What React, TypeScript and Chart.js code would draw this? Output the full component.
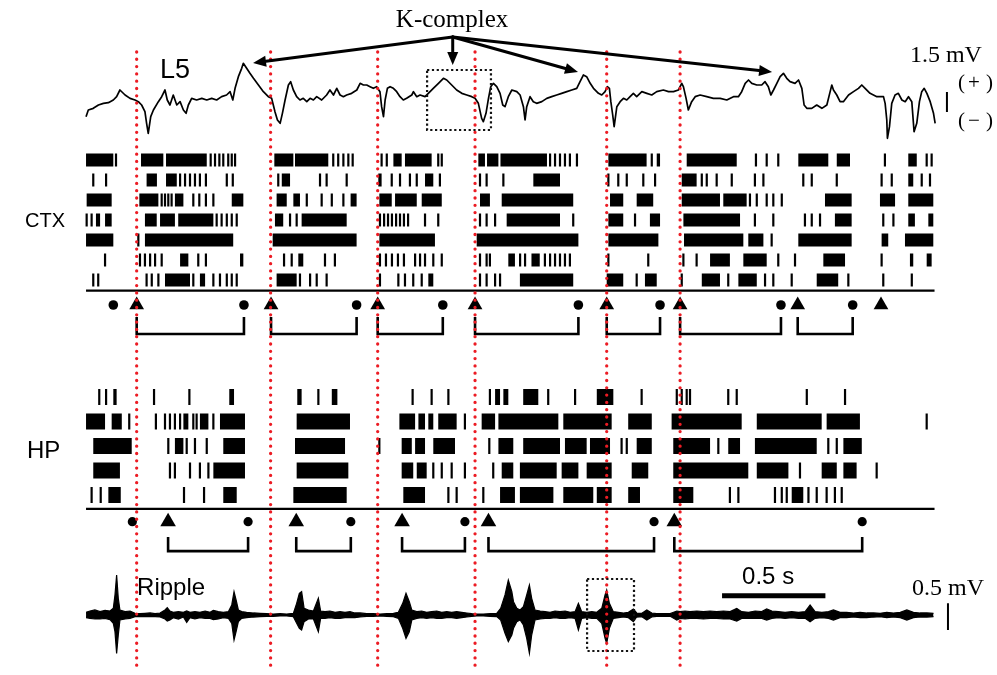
import React, { useEffect, useRef } from "react";
import { Chart, registerables } from "chart.js";
Chart.register(...registerables);

type Row = (number | [number, number])[];

// ---------------- DATA (time in s, potentials in mV) ----------------
// K-complex onsets (red dotted lines)
const kComplexOnsets = [0.25, 0.898, 1.416, 1.887, 2.524, 2.879];

// L5 LFP trace [t, mV]
const l5Trace: [number, number][] = [
  [0.005, -1.25], [0.016, -0.75], [0.04, -0.625], [0.065, -0.375], [0.089, -0.25], [0.113, -0.2], [0.137, 0], [0.153, 0.25],
  [0.169, 0.75], [0.194, 0.375], [0.218, 0.125], [0.242, 0], [0.258, -0.125], [0.274, -0.375], [0.29, -0.875], [0.298, -1.75],
  [0.306, -2.5], [0.318, -1.25], [0.331, -0.75], [0.355, -0.125], [0.371, 0.25], [0.387, 0.75], [0.398, 0], [0.411, -0.375],
  [0.427, 0.375], [0.444, -0.375], [0.46, -0.125], [0.476, -0.75], [0.489, -1.0], [0.5, -0.375], [0.516, 0.125], [0.54, 0],
  [0.565, 0.125], [0.589, 0], [0.613, 0.125], [0.637, 0], [0.661, 0.25], [0.685, 0.375], [0.702, 0.625], [0.715, 0],
  [0.726, 0.875], [0.742, 1.75], [0.758, 2.375], [0.766, 2.75], [0.782, 2.375], [0.798, 2.0], [0.815, 1.625], [0.839, 1.125],
  [0.863, 0.625], [0.887, 0.25], [0.903, 0.125], [0.911, -0.375], [0.919, -0.875], [0.931, -1.5], [0.944, -1.75], [0.955, -1.0],
  [0.968, 0], [0.984, 1.125], [0.995, 1.375], [1.008, 0.75], [1.024, 0.25], [1.04, 0], [1.056, 0.125], [1.073, -0.125],
  [1.089, 0.125], [1.105, 0], [1.121, 0.25], [1.145, 0], [1.169, 0.375], [1.185, 0.75], [1.202, 0.375], [1.218, 0.875],
  [1.234, 0.375], [1.25, 0.25], [1.266, 0.375], [1.29, 0.5], [1.315, 0.75], [1.331, 1.25], [1.347, 1.125], [1.363, 1.125],
  [1.379, 1.0], [1.395, 0.875], [1.411, 1.0], [1.427, 0.625], [1.435, -0.5], [1.444, -1.25], [1.452, 0], [1.463, 0.875],
  [1.476, 1.0], [1.492, 0.875], [1.508, 0.625], [1.524, 0.25], [1.54, 0], [1.556, 0.125], [1.581, 0.375], [1.589, 0.625],
  [1.605, 0.25], [1.621, 0.375], [1.645, 0.25], [1.661, 0.5], [1.685, 0.875], [1.71, 1.25], [1.734, 1.625], [1.75, 1.5],
  [1.774, 1.125], [1.798, 0.75], [1.823, 0.5], [1.847, 0.375], [1.871, 0.25], [1.887, 0.125], [1.903, -0.25], [1.919, -1.375],
  [1.927, -1.625], [1.94, -1.0], [1.952, 0.125], [1.963, 1.0], [1.976, 1.25], [1.992, 1.0], [2.008, 0.5], [2.021, -0.375],
  [2.032, -0.5], [2.048, 0.25], [2.065, 0.75], [2.089, 0.625], [2.105, 0.375], [2.121, -0.5], [2.129, -1.5], [2.137, -0.5],
  [2.153, 0.25], [2.169, -0.125], [2.185, -0.25], [2.21, -0.125], [2.234, 0.125], [2.258, 0.25], [2.282, 0.375], [2.306, 0.5],
  [2.331, 0.625], [2.355, 0.75], [2.379, 0.875], [2.395, 1.375], [2.411, 1.875], [2.427, 1.75], [2.444, 1.25], [2.46, 0.875],
  [2.484, 0.5], [2.5, 0.375], [2.516, 0.625], [2.527, 1.0], [2.537, 0.875], [2.544, -0.125], [2.553, -1.125], [2.56, -2.0],
  [2.573, -0.5], [2.589, -0.125], [2.605, 0.125], [2.621, 0], [2.637, 0.25], [2.653, 0.5], [2.669, 0.25], [2.694, 0.625],
  [2.718, 0.5], [2.742, 0.375], [2.766, 0.625], [2.798, 0.75], [2.823, 0.625], [2.847, 0.625], [2.871, 0.75], [2.887, 1.25],
  [2.895, 1.0], [2.908, 0.125], [2.919, -0.75], [2.935, -0.125], [2.952, 0.25], [2.976, 0.375], [3.008, 0.25], [3.04, 0.125],
  [3.073, 0.125], [3.105, 0], [3.137, 0.25], [3.161, 0.25], [3.177, 0.625], [3.194, 1.25], [3.21, 1.5], [3.226, 1.25],
  [3.25, 1.125], [3.274, 1.125], [3.29, 1.375], [3.306, 1.0], [3.318, 0.375], [3.331, 0.75], [3.347, 1.25], [3.363, 1.75],
  [3.379, 2.0], [3.395, 1.625], [3.411, 1.375], [3.435, 1.25], [3.452, 1.5], [3.468, 0.875], [3.479, -0.375], [3.492, -0.625],
  [3.516, -0.625], [3.54, -0.375], [3.565, -0.625], [3.589, -0.375], [3.605, 0.625], [3.613, 1.125], [3.621, 0.75], [3.637, 0.375],
  [3.653, -0.125], [3.669, -0.125], [3.694, 0.375], [3.718, 0.625], [3.742, 0.875], [3.758, 1.125], [3.774, 0.875], [3.798, 0.5],
  [3.831, 0.25], [3.863, 0.25], [3.871, -0.25], [3.879, -1.5], [3.882, -2.875], [3.892, -2.0], [3.903, -0.25], [3.919, 0.375],
  [3.935, 0.5], [3.952, 0], [3.968, -0.125], [3.984, 0.25], [4.0, -0.125], [4.011, -2.375], [4.024, -1.75], [4.037, -0.125],
  [4.048, 0.625], [4.06, 0.875], [4.073, 0.5], [4.089, -0.125], [4.105, -1.0], [4.113, -1.75],
];

// CTX raster: single spikes (numbers) and dense bursts ([start, end])
const ctxRow1: Row = [[0.005, 0.137], 0.15, [0.271, 0.379], [0.392, 0.589], 0.608, 0.629, 0.65, 0.669, 0.693, 0.71, 0.726,
  [0.916, 1.008], [1.016, 1.177], 1.201, 1.225, 1.25, 1.274, 1.295, 1.435, 1.46, [1.492, 1.532], [1.548, 1.677], 1.709, 1.726,
  [1.903, 1.935], [1.945, 2.0], [2.01, 2.235], 2.25, 2.274, 2.298, 2.322, 2.346, 2.38, [2.532, 2.717], 2.742, [2.766, 2.782],
  [2.911, 3.153], 3.246, 3.298, 3.354, [3.451, 3.596], [3.637, 3.701], 3.87, [3.983, 4.024], 4.072, 4.096];
const ctxRow2: Row = [0.04, 0.102, [0.298, 0.348], [0.392, 0.444], 0.46, 0.484, 0.508, 0.532, 0.556, 0.585, 0.686, 0.715,
  0.935, [0.952, 0.992], 1.137, 1.169, 1.266, [1.419, 1.435], 1.484, 1.524, 1.572, 1.605, [1.645, 1.685], 1.717, 1.911, 1.943,
  2.024, [2.169, 2.298], 2.532, 2.58, 2.621, 2.701, 2.758, [2.887, 2.959], 2.984, 3.008, 3.056, 3.129, 3.241, 3.282, 3.475,
  3.516, 3.637, 3.854, 3.903, [3.983, 4.007], 4.048, 4.088];
const ctxRow3: Row = [[0.008, 0.129], [0.263, 0.355], 0.371, 0.387, 0.403, 0.419, [0.435, 0.476], 0.524, 0.553, 0.585, 0.621,
  [0.71, 0.766], [0.927, 0.976], [1.008, 1.04], 1.073, 1.145, 1.194, 1.25, [1.285, 1.314], [1.424, 1.484], [1.5, 1.605],
  [1.629, 1.726], [1.911, 1.959], [2.016, 2.362], [2.54, 2.604], [2.669, 2.749], [2.887, 3.072], [3.088, 3.201], 3.217, 3.25,
  3.298, 3.33, 3.371, [3.58, 3.709], [3.846, 3.919], [3.983, 4.104]];
const ctxRow4: Row = [0.008, 0.032, [0.053, 0.073], [0.097, 0.129], [0.29, 0.347], [0.363, 0.435], [0.451, 0.621], 0.637,
  0.661, 0.686, 0.71, 0.734, [0.919, 0.959], 0.992, 1.024, [1.048, 1.266], 1.427, 1.447, 1.466, 1.485, 1.505, 1.524, 1.543,
  1.563, 1.645, 1.709, 1.911, 1.943, 1.984, [2.04, 2.298], 2.362, [2.532, 2.604], 2.661, [2.733, 2.782], [2.895, 3.169],
  3.241, 3.33, 3.483, 3.516, 3.556, [3.628, 3.709], 3.862, 3.911, [3.983, 4.015], [4.08, 4.104]];
const ctxRow5: Row = [[0.005, 0.137], 0.258, [0.29, 0.717], [0.908, 1.314], [1.424, 1.693], [1.895, 2.387], [2.532, 2.774],
  [2.898, 3.185], [3.209, 3.282], 3.322, [3.451, 3.709], [3.854, 3.886], [3.967, 4.104]];
const ctxRow6: Row = [0.097, 0.266, 0.29, 0.315, 0.339, 0.371, [0.46, 0.5], 0.548, 0.585, [0.75, 0.766], 0.963, 1.0,
  [1.032, 1.056], 1.161, 1.209, 1.427, 1.456, 1.485, 1.514, 1.543, 1.597, 1.621, 1.645, 1.685, 1.726, 1.911, 1.943, 1.959,
  [2.048, 2.08], 2.105, 2.129, [2.16, 2.2], 2.225, 2.25, 2.274, 2.298, 2.322, 2.346, 2.532, 2.725, 2.895, 2.959,
  [3.024, 3.12], [3.185, 3.298], 3.354, 3.435, [3.572, 3.677], 3.854, [3.991, 4.007], [4.072, 4.096]];
const ctxRow7: Row = [0.04, 0.064, 0.298, 0.323, 0.355, [0.387, 0.508], 0.524, [0.556, 0.581], 0.621, 0.653, 0.686, 0.71,
  0.734, [0.927, 1.024], 1.04, 1.089, 1.121, 1.169, 1.427, 1.516, 1.548, 1.588, 1.629, [1.661, 1.685], 1.911, 1.943, 1.984,
  2.008, [2.104, 2.362], [2.524, 2.604], 2.669, [2.709, 2.766], 2.887, [2.984, 3.072], 3.112, [3.161, 3.25], 3.29, 3.33,
  3.419, [3.54, 3.644], 3.693, 3.862, 4.0];

// HP raster
const hpRow1: Row = [0.069, 0.102, [0.137, 0.153], 0.334, 0.505, [0.698, 0.721], [1.027, 1.048], 1.129, [1.194, 1.221],
  1.585, 1.677, 1.758, 1.959, [1.984, 2.008], [2.024, 2.048], [2.12, 2.193], 2.241, 2.371, [2.476, 2.556], 2.693, 2.863,
  2.887, 2.911, 2.927, 3.112, 3.153, 3.492, 3.677];
const hpRow2: Row = [[0.005, 0.097], [0.129, 0.178], 0.214, 0.343, 0.387, 0.411, 0.435, 0.46, [0.476, 0.5], 0.524, 0.54,
  [0.556, 0.597], 0.621, [0.653, 0.774], [1.024, 1.282], [1.521, 1.597], [1.613, 1.645], [1.661, 1.685], [1.709, 1.798],
  1.838, [1.919, 1.984], [2.0, 2.29], [2.314, 2.548], [2.628, 2.742], [2.838, 3.177], [3.25, 3.564], [3.588, 3.749], 4.072];
const hpRow3: Row = [[0.04, 0.226], 0.403, [0.435, 0.476], 0.492, 0.532, 0.589, [0.669, 0.774], [1.016, 1.258], 1.424,
  [1.532, 1.581], [1.597, 1.645], [1.685, 1.79], 1.956, [2.0, 2.072], [2.12, 2.298], [2.322, 2.427], [2.443, 2.54], 2.596,
  2.621, [2.669, 2.742], [2.846, 3.024], 3.064, [3.112, 3.169], [3.241, 3.54], 3.596, 3.637, [3.669, 3.758]];
const hpRow4: Row = [[0.04, 0.169], 0.411, 0.435, 0.508, 0.556, 0.597, [0.621, 0.774], [1.024, 1.274], [1.532, 1.588],
  [1.605, 1.653], 1.685, 1.726, 1.774, 1.838, 1.975, [2.016, 2.072], [2.104, 2.282], [2.306, 2.387], [2.427, 2.548],
  [2.645, 2.725], [2.846, 3.209], [3.25, 3.403], 3.459, [3.564, 3.637], [3.669, 3.733], 3.83];
const hpRow5: Row = [0.032, 0.076, [0.113, 0.173], 0.479, 0.576, [0.669, 0.734], [1.008, 1.266], [1.54, 1.645], 1.758, 1.798,
  1.927, [2.008, 2.08], [2.104, 2.266], [2.314, 2.459], [2.476, 2.548], [2.628, 2.685], [2.846, 2.943], 3.12, 3.161, 3.338,
  3.371, 3.395, [3.419, 3.475], 3.5, 3.54, 3.588, 3.628, 3.661];

// UP-state onsets (triangles), offsets (dots) and spans (brackets)
const ctxOffsets = [0.137, 0.769, 1.314, 1.731, 2.387, 2.782, 3.367, 3.714];
const ctxOnsets = [0.25, 0.9, 1.416, 1.887, 2.524, 2.879, 3.448, 3.851];
const ctxUpStates: [number, number][] = [[0.25, 0.769], [0.9, 1.314], [1.416, 1.731], [1.887, 2.387], [2.524, 2.782], [2.879, 3.367], [3.448, 3.714]];
const hpOffsets = [0.229, 0.789, 1.286, 1.838, 2.753, 3.76];
const hpOnsets = [0.402, 1.022, 1.534, 1.952, 2.851];
const hpUpStates: [number, number][] = [[0.402, 0.789], [1.022, 1.286], [1.534, 1.838], [1.952, 2.753], [2.851, 3.76]];

// Ripple-band LFP envelope [t, max mV, min mV]
const rippleEnvelope: [number, number, number][] = [
  [0.005, 0.05, -0.05], [0.024, 0.075, -0.063], [0.048, 0.094, -0.075], [0.073, 0.063, -0.075], [0.097, 0.088, -0.063],
  [0.121, 0.075, -0.088], [0.137, 0.125, -0.156], [0.145, 0.375, -0.313], [0.153, 0.75, -0.719], [0.161, 0.313, -0.375],
  [0.169, 0.094, -0.094], [0.194, 0.063, -0.075], [0.218, 0.075, -0.063], [0.242, 0.031, -0.031], [0.266, 0.025, -0.031],
  [0.29, 0.031, -0.025], [0.315, 0.038, -0.031], [0.339, 0.025, -0.031], [0.363, 0.038, -0.038], [0.387, 0.094, -0.075],
  [0.398, 0.138, -0.113], [0.411, 0.075, -0.094], [0.427, 0.05, -0.05], [0.452, 0.063, -0.075], [0.476, 0.05, -0.038],
  [0.492, 0.075, -0.138], [0.508, 0.05, -0.05], [0.532, 0.063, -0.075], [0.556, 0.05, -0.05], [0.581, 0.075, -0.063],
  [0.605, 0.05, -0.063], [0.621, 0.088, -0.088], [0.645, 0.063, -0.075], [0.669, 0.05, -0.05], [0.694, 0.063, -0.063],
  [0.71, 0.188, -0.156], [0.721, 0.438, -0.469], [0.731, 0.281, -0.313], [0.742, 0.094, -0.125], [0.758, 0.063, -0.063],
  [0.782, 0.05, -0.05], [0.815, 0.038, -0.038], [0.847, 0.031, -0.031], [0.879, 0.025, -0.025], [0.911, 0.019, -0.025],
  [0.944, 0.025, -0.019], [0.976, 0.019, -0.019], [1.008, 0.031, -0.031], [1.024, 0.219, -0.156], [1.037, 0.406, -0.25],
  [1.048, 0.438, -0.281], [1.06, 0.125, -0.125], [1.081, 0.094, -0.075], [1.105, 0.075, -0.075], [1.129, 0.313, -0.313],
  [1.14, 0.075, -0.063], [1.161, 0.063, -0.063], [1.185, 0.075, -0.05], [1.21, 0.05, -0.063], [1.234, 0.063, -0.063],
  [1.258, 0.05, -0.05], [1.282, 0.063, -0.05], [1.306, 0.038, -0.05], [1.331, 0.038, -0.038], [1.363, 0.025, -0.025],
  [1.395, 0.025, -0.025], [1.427, 0.019, -0.019], [1.46, 0.025, -0.025], [1.492, 0.031, -0.031], [1.516, 0.05, -0.063],
  [1.537, 0.219, -0.25], [1.553, 0.406, -0.438], [1.569, 0.25, -0.313], [1.581, 0.094, -0.094], [1.605, 0.063, -0.063],
  [1.629, 0.075, -0.05], [1.653, 0.05, -0.063], [1.677, 0.063, -0.05], [1.702, 0.075, -0.063], [1.726, 0.05, -0.063],
  [1.75, 0.063, -0.05], [1.774, 0.05, -0.05], [1.798, 0.063, -0.063], [1.823, 0.05, -0.05], [1.847, 0.038, -0.038],
  [1.871, 0.025, -0.025], [1.895, 0.019, -0.019], [1.927, 0.019, -0.019], [1.96, 0.025, -0.025], [1.992, 0.031, -0.031],
  [2.011, 0.125, -0.094], [2.032, 0.375, -0.344], [2.048, 0.656, -0.5], [2.065, 0.438, -0.375], [2.073, 0.25, -0.25],
  [2.089, 0.125, -0.125], [2.105, 0.094, -0.094], [2.121, 0.156, -0.188], [2.137, 0.375, -0.438], [2.15, 0.563, -0.719],
  [2.161, 0.313, -0.375], [2.177, 0.094, -0.094], [2.202, 0.075, -0.075], [2.226, 0.063, -0.063], [2.25, 0.05, -0.063],
  [2.274, 0.075, -0.05], [2.298, 0.063, -0.063], [2.323, 0.075, -0.063], [2.347, 0.05, -0.05], [2.371, 0.063, -0.063],
  [2.387, 0.219, -0.281], [2.403, 0.063, -0.063], [2.427, 0.05, -0.05], [2.452, 0.063, -0.063], [2.476, 0.05, -0.063],
  [2.5, 0.125, -0.156], [2.516, 0.375, -0.438], [2.524, 0.469, -0.531], [2.537, 0.219, -0.25], [2.556, 0.063, -0.063],
  [2.581, 0.05, -0.05], [2.605, 0.038, -0.038], [2.629, 0.05, -0.05], [2.653, 0.113, -0.125], [2.669, 0.038, -0.038],
  [2.694, 0.031, -0.031], [2.718, 0.094, -0.094], [2.742, 0.038, -0.038], [2.766, 0.025, -0.025], [2.798, 0.025, -0.025],
  [2.831, 0.025, -0.025], [2.863, 0.075, -0.094], [2.879, 0.063, -0.063], [2.903, 0.075, -0.075], [2.927, 0.063, -0.063],
  [2.96, 0.075, -0.063], [2.992, 0.063, -0.075], [3.024, 0.075, -0.063], [3.056, 0.063, -0.063], [3.089, 0.075, -0.075],
  [3.121, 0.063, -0.075], [3.153, 0.125, -0.113], [3.177, 0.063, -0.063], [3.21, 0.05, -0.063], [3.242, 0.075, -0.063],
  [3.274, 0.063, -0.063], [3.298, 0.113, -0.094], [3.323, 0.075, -0.063], [3.355, 0.063, -0.05], [3.387, 0.05, -0.063],
  [3.419, 0.063, -0.05], [3.452, 0.05, -0.063], [3.484, 0.063, -0.063], [3.508, 0.188, -0.125], [3.532, 0.063, -0.063],
  [3.565, 0.05, -0.05], [3.597, 0.063, -0.063], [3.621, 0.094, -0.094], [3.653, 0.05, -0.05], [3.685, 0.05, -0.05],
  [3.718, 0.038, -0.038], [3.75, 0.05, -0.05], [3.782, 0.038, -0.05], [3.815, 0.038, -0.038], [3.847, 0.031, -0.031],
  [3.879, 0.05, -0.05], [3.911, 0.038, -0.038], [3.944, 0.05, -0.05], [3.976, 0.094, -0.094], [4.008, 0.05, -0.05],
  [4.04, 0.038, -0.038], [4.073, 0.038, -0.038], [4.105, 0.031, -0.031],
];

// Scale bars
const l5ScaleBarMv = 1.5;
const rippleScaleBarMv = 0.5;
const timeScaleBarS = 0.5;

// ---------------- LAYOUT ----------------
const W = 997, H = 675;
const T0_PX = 85, PX_PER_S = 206.7;
const TRACE_START = 0.005, TRACE_END = 4.11;

function band(v0: number, refPx: number, pxPerUnit: number, reverse: boolean) {
  if (reverse) return { min: v0 - refPx / pxPerUnit, max: v0 + (H - refPx) / pxPerUnit, reverse: true };
  return { min: v0 - (H - refPx) / pxPerUnit, max: v0 + refPx / pxPerUnit, reverse: false };
}
const yL5Range = band(0, 100, 13.33, false);
const yCtxRange = band(0, 160, 20, true);
const yHpRange = band(0, 397, 24.5, true);
const yRipRange = band(0, 615, 53.33, false);

const CTX_BASE = 6.53, CTX_MARK = 7.25, CTX_LEG_TOP = 7.85, CTX_LEG_BOT = 8.7;
const HP_BASE = 4.57, HP_MARK = 5.09, HP_LEG_TOP = 5.71, HP_LEG_BOT = 6.29;
const RED_TOP = 0.077, RED_BOT = 0.996;

const kApex: [number, number] = [1.779, 4.73];
const kTips: [number, number][] = [[0.813, 2.78], [1.779, 2.63], [2.385, 2.1], [3.324, 2.1]];

const SERIF = '"Liberation Serif", "Times New Roman", serif';
const SANS = '"Liberation Sans", Arial, sans-serif';
const textLabels = [
  { text: "K-complex", t: 1.776, v: 5.48, axis: "yL5", font: `25px ${SERIF}`, align: "center", base: "alphabetic" },
  { text: "L5", t: 0.363, v: 1.65, axis: "yL5", font: `27px ${SANS}`, align: "left", base: "alphabetic" },
  { text: "1.5 mV", t: 3.991, v: 2.85, axis: "yL5", font: `24px ${SERIF}`, align: "left", base: "alphabetic" },
  { text: "(", t: 4.224, v: 0.83, axis: "yL5", font: `21px ${SERIF}`, align: "left", base: "alphabetic" },
  { text: "+", t: 4.272, v: 0.83, axis: "yL5", font: `21px ${SERIF}`, align: "left", base: "alphabetic" },
  { text: ")", t: 4.359, v: 0.83, axis: "yL5", font: `21px ${SERIF}`, align: "left", base: "alphabetic" },
  { text: "(", t: 4.224, v: -2.03, axis: "yL5", font: `21px ${SERIF}`, align: "left", base: "alphabetic" },
  { text: "\u2212", t: 4.272, v: -2.03, axis: "yL5", font: `21px ${SERIF}`, align: "left", base: "alphabetic" },
  { text: ")", t: 4.359, v: -2.03, axis: "yL5", font: `21px ${SERIF}`, align: "left", base: "alphabetic" },
  { text: "CTX", t: -0.29, v: 3.05, axis: "yCTX", font: `20px ${SANS}`, align: "left", base: "middle" },
  { text: "HP", t: -0.281, v: 2.2, axis: "yHP", font: `24px ${SANS}`, align: "left", base: "middle" },
  { text: "Ripple", t: 0.252, v: 0.375, axis: "yRip", font: `24px ${SANS}`, align: "left", base: "alphabetic" },
  { text: "0.5 s", t: 3.179, v: 0.581, axis: "yRip", font: `24px ${SANS}`, align: "left", base: "alphabetic" },
  { text: "0.5 mV", t: 4.001, v: 0.375, axis: "yRip", font: `24px ${SERIF}`, align: "left", base: "alphabetic" },
];

// ---------------- builders ----------------
type P = { x: number; y: number | null };
function burstPoints(row: Row, y: number): P[] {
  const pts: P[] = [];
  row.forEach((it) => {
    if (Array.isArray(it)) pts.push({ x: it[0], y }, { x: it[1], y }, { x: it[1], y: null });
  });
  return pts;
}
function spikePoints(row: Row, y: number): P[] {
  return row.filter((it) => typeof it === "number").map((t) => ({ x: t as number, y }));
}
function bracketPoints(spans: [number, number][], top: number, bot: number): P[] {
  const pts: P[] = [];
  spans.forEach(([a, b]) => pts.push({ x: a, y: top }, { x: a, y: bot }, { x: b, y: bot }, { x: b, y: top }, { x: b, y: null }));
  return pts;
}

const base = { type: "line", xAxisID: "x", pointRadius: 0, borderColor: "#000", backgroundColor: "#000", tension: 0, fill: false, spanGaps: false, order: 1 };

function buildDatasets() {
  const ds: any[] = [];
  // red dotted K-complex lines (on top)
  const red: P[] = [];
  kComplexOnsets.forEach((t) => red.push({ x: t, y: RED_TOP }, { x: t, y: RED_BOT }, { x: t, y: null }));
  ds.push({ ...base, data: red, yAxisID: "yFrame", borderColor: "#ec1c24", borderWidth: 3.3, borderDash: [0, 7.3], borderCapStyle: "round", order: 0 });

  // L5 trace
  ds.push({ ...base, data: l5Trace.map(([x, y]) => ({ x, y })), yAxisID: "yL5", borderWidth: 1.7, borderJoinStyle: "round" });
  ds.push({ ...base, data: [{ x: 4.17, y: 0.6 }, { x: 4.17, y: 0.6 - l5ScaleBarMv }], yAxisID: "yL5", borderWidth: 2 });

  // CTX raster
  [ctxRow1, ctxRow2, ctxRow3, ctxRow4, ctxRow5, ctxRow6, ctxRow7].forEach((row, i) => {
    ds.push({ ...base, data: burstPoints(row, i), yAxisID: "yCTX", borderWidth: 13, borderCapStyle: "butt" });
    ds.push({ ...base, data: spikePoints(row, i), yAxisID: "yCTX", showLine: false, pointStyle: "line", pointRotation: 90, pointRadius: 6.5, pointBorderWidth: 2.2, pointBorderColor: "#000" });
  });
  ds.push({ ...base, data: [{ x: TRACE_START, y: CTX_BASE }, { x: TRACE_END, y: CTX_BASE }], yAxisID: "yCTX", borderWidth: 2.2 });
  ds.push({ ...base, data: ctxOnsets.map((x) => ({ x, y: CTX_MARK })), yAxisID: "yCTX", showLine: false, pointStyle: "triangle", pointRadius: 8.5, pointBackgroundColor: "#000", pointBorderWidth: 0 });
  ds.push({ ...base, data: ctxOffsets.map((x) => ({ x, y: CTX_MARK })), yAxisID: "yCTX", showLine: false, pointStyle: "circle", pointRadius: 4.8, pointBackgroundColor: "#000", pointBorderWidth: 0 });
  ds.push({ ...base, data: bracketPoints(ctxUpStates, CTX_LEG_TOP, CTX_LEG_BOT), yAxisID: "yCTX", borderWidth: 2.6, borderJoinStyle: "miter" });

  // HP raster
  [hpRow1, hpRow2, hpRow3, hpRow4, hpRow5].forEach((row, i) => {
    ds.push({ ...base, data: burstPoints(row, i), yAxisID: "yHP", borderWidth: 16, borderCapStyle: "butt" });
    ds.push({ ...base, data: spikePoints(row, i), yAxisID: "yHP", showLine: false, pointStyle: "line", pointRotation: 90, pointRadius: 8, pointBorderWidth: 2.2, pointBorderColor: "#000" });
  });
  ds.push({ ...base, data: [{ x: TRACE_START, y: HP_BASE }, { x: TRACE_END, y: HP_BASE }], yAxisID: "yHP", borderWidth: 2.2 });
  ds.push({ ...base, data: hpOnsets.map((x) => ({ x, y: HP_MARK })), yAxisID: "yHP", showLine: false, pointStyle: "triangle", pointRadius: 9, pointBackgroundColor: "#000", pointBorderWidth: 0 });
  ds.push({ ...base, data: hpOffsets.map((x) => ({ x, y: HP_MARK })), yAxisID: "yHP", showLine: false, pointStyle: "circle", pointRadius: 4.6, pointBackgroundColor: "#000", pointBorderWidth: 0 });
  ds.push({ ...base, data: bracketPoints(hpUpStates, HP_LEG_TOP, HP_LEG_BOT), yAxisID: "yHP", borderWidth: 2.6, borderJoinStyle: "miter" });

  // Ripple band
  ds.push({ ...base, data: rippleEnvelope.map(([x, hi]) => ({ x, y: hi })), yAxisID: "yRip", borderWidth: 1.2, fill: "+1", backgroundColor: "#000" });
  ds.push({ ...base, data: rippleEnvelope.map(([x, , lo]) => ({ x, y: lo })), yAxisID: "yRip", borderWidth: 1.2 });
  ds.push({ ...base, data: [{ x: 4.175, y: 0.22 }, { x: 4.175, y: 0.22 - rippleScaleBarMv }], yAxisID: "yRip", borderWidth: 2 });
  ds.push({ ...base, data: [{ x: 3.082, y: 0.36 }, { x: 3.082 + timeScaleBarS, y: 0.36 }], yAxisID: "yRip", borderWidth: 5 });
  return ds;
}

function drawArrow(ctx: CanvasRenderingContext2D, x1: number, y1: number, x2: number, y2: number) {
  const ang = Math.atan2(y2 - y1, x2 - x1);
  const len = 13, hw = 5.5;
  const bx = x2 - Math.cos(ang) * len, by = y2 - Math.sin(ang) * len;
  ctx.beginPath();
  ctx.moveTo(x1, y1);
  ctx.lineTo(bx, by);
  ctx.lineWidth = 3;
  ctx.lineCap = "round";
  ctx.strokeStyle = "#000";
  ctx.stroke();
  ctx.beginPath();
  ctx.moveTo(x2, y2);
  ctx.lineTo(bx - Math.sin(ang) * hw, by + Math.cos(ang) * hw);
  ctx.lineTo(bx + Math.sin(ang) * hw, by - Math.cos(ang) * hw);
  ctx.closePath();
  ctx.fillStyle = "#000";
  ctx.fill();
}

const annotationPlugin = {
  id: "annotations",
  afterDatasetsDraw(chart: any) {
    const ctx: CanvasRenderingContext2D = chart.ctx;
    const sx = chart.scales.x;
    const sl = chart.scales.yL5;
    const sr = chart.scales.yRip;
    ctx.save();
    const [ax, ay] = [sx.getPixelForValue(kApex[0]), sl.getPixelForValue(kApex[1])];
    kTips.forEach(([t, v]) => drawArrow(ctx, ax, ay, sx.getPixelForValue(t), sl.getPixelForValue(v)));
    // dotted boxes
    ctx.setLineDash([2.2, 2.6]);
    ctx.lineWidth = 2.2;
    ctx.lineCap = "butt";
    ctx.strokeStyle = "#111";
    const box = (t1: number, t2: number, v1: number, v2: number, s: any) => {
      const x1 = sx.getPixelForValue(t1), x2 = sx.getPixelForValue(t2);
      const y1 = s.getPixelForValue(v1), y2 = s.getPixelForValue(v2);
      ctx.strokeRect(x1, y1, x2 - x1, y2 - y1);
    };
    box(1.655, 1.964, 2.25, -2.25, sl);
    box(2.429, 2.656, 0.675, -0.675, sr);
    ctx.setLineDash([]);
    // text
    ctx.fillStyle = "#000";
    textLabels.forEach((lb) => {
      const s = chart.scales[lb.axis];
      ctx.font = lb.font;
      ctx.textAlign = lb.align as CanvasTextAlign;
      ctx.textBaseline = lb.base as CanvasTextBaseline;
      ctx.fillText(lb.text, sx.getPixelForValue(lb.t), s.getPixelForValue(lb.v));
    });
    ctx.restore();
  },
};

export default function App() {
  const ref = useRef<HTMLCanvasElement>(null);
  useEffect(() => {
    if (!ref.current) return;
    const hidden = { display: false, bounds: "data" as const };
    const chart = new Chart(ref.current, {
      type: "line",
      data: { datasets: buildDatasets() },
      options: {
        responsive: false,
        animation: false,
        devicePixelRatio: 1,
        events: [],
        layout: { padding: 0, autoPadding: false },
        plugins: { legend: { display: false }, tooltip: { enabled: false }, title: { display: false } },
        scales: {
          x: { type: "linear", ...hidden, min: -T0_PX / PX_PER_S, max: (W - T0_PX) / PX_PER_S },
          yL5: { type: "linear", ...hidden, ...yL5Range },
          yCTX: { type: "linear", ...hidden, ...yCtxRange },
          yHP: { type: "linear", ...hidden, ...yHpRange },
          yRip: { type: "linear", ...hidden, ...yRipRange },
          yFrame: { type: "linear", ...hidden, min: 0, max: 1, reverse: true },
        },
      } as any,
      plugins: [annotationPlugin],
    } as any);
    return () => chart.destroy();
  }, []);
  return (
    <div style={{ position: "absolute", left: 0, top: 0, width: W, height: H, background: "#fff" }}>
      <canvas ref={ref} width={W} height={H} style={{ display: "block", width: W, height: H }} />
    </div>
  );
}
